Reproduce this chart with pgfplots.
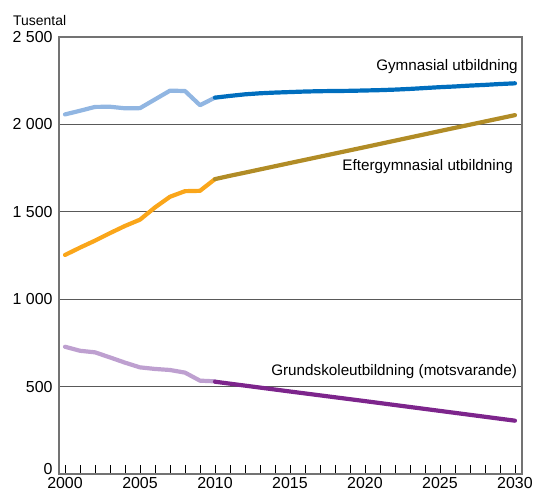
\documentclass[border=0pt]{standalone}
\usepackage{fontspec}
\setmainfont{Liberation Sans}
\usepackage{pgfplots}
\pgfplotsset{compat=1.18}
\usepackage{pgfplotstable}

\definecolor{gymL}{RGB}{145,182,226}
\definecolor{gymD}{RGB}{0,110,190}
\definecolor{eftL}{RGB}{250,166,26}
\definecolor{eftD}{RGB}{177,140,38}
\definecolor{grL}{RGB}{190,160,208}
\definecolor{grD}{RGB}{125,37,140}

\pgfplotstableread{
x y
2000 2057
2001 2078
2002 2100
2003 2101
2004 2092
2005 2093
2006 2143
2007 2193
2008 2191
2009 2110
2010 2153
}\gymhist
\pgfplotstableread{
x y
2010 2153
2011 2163
2012 2172
2013 2178
2014 2182
2015 2185
2016 2188
2017 2190
2018 2191
2019 2192
2020 2194
2021 2196
2022 2199
2023 2203
2024 2208
2025 2213
2026 2217
2027 2222
2028 2226
2029 2231
2030 2235
}\gymproj
\pgfplotstableread{
x y
2000 1253
2001 1295
2002 1335
2003 1378
2004 1419
2005 1455
2006 1525
2007 1586
2008 1618
2009 1620
2010 1687
}\efthist
\pgfplotstableread{
x y
2010 1687
2011 1706
2012 1724
2015 1779
2020 1870
2025 1962
2030 2053
}\eftproj
\pgfplotstableread{
x y
2000 728
2001 705
2002 696
2003 667
2004 637
2005 610
2006 601
2007 595
2008 580
2009 534
2010 530
}\grhist
\pgfplotstableread{
x y
2010 528
2015 472
2020 417
2025 361
2030 305
}\grproj

\begin{document}
\begin{tikzpicture}
\useasboundingbox (-59bp,-20bp) rectangle (474bp,474bp);
\begin{axis}[
  at={(0,0)}, anchor=south west,
  scale only axis, width=463bp, height=437bp,
  xmin=1999.6, xmax=2030.47,
  ymin=0, ymax=2500,
  xtick={2000,2005,...,2030},
  xticklabels={2000,2005,2010,2015,2020,2025,2030},
  minor xtick={2000,...,2030},
  ytick={0,500,1000,1500,2000,2500},
  yticklabels={\raisebox{0bp}[0pt][0pt]{0},500,1 000,1 500,2 000,2 500},
  ymajorgrids,
  major grid style={black!65, line width=0.7pt},
  tick align=inside,
  xtick pos=bottom,
  ytick style={draw=none},
  major tick length=9bp, minor tick length=9bp,
  xtick style={black, line width=0.6pt},
  x axis line style={black, line width=0.7pt},
  y axis line style={black!55, line width=1.2pt},
  tick label style={font=\fontsize{16}{18}\selectfont},
  xticklabel style={inner sep=1bp, yshift=-2bp},
  yticklabel style={inner sep=0pt, xshift=-6.3bp},
  every axis plot/.append style={line width=4.2bp, line cap=round, line join=round},
  clip=false,
]
\addplot[gymL] table[x=x,y=y] {\gymhist};
\addplot[eftL] table[x=x,y=y] {\efthist};
\addplot[grL] table[x=x,y=y] {\grhist};
\addplot[gymD] table[x=x,y=y] {\gymproj};
\addplot[eftD] table[x=x,y=y] {\eftproj};
\addplot[grD] table[x=x,y=y] {\grproj};
\node[anchor=east, font=\fontsize{15.3}{17}\selectfont, inner sep=0pt] at (axis cs:2030.2,2330) {Gymnasial utbildning};
\node[anchor=east, font=\fontsize{15.3}{17}\selectfont, inner sep=0pt] at (axis cs:2029.87,1758) {Eftergymnasial utbildning};
\node[anchor=east, font=\fontsize{15.3}{17}\selectfont, inner sep=0pt] at (axis cs:2030.15,585) {Grundskoleutbildning (motsvarande)};
\end{axis}
\node[anchor=west, font=\fontsize{14}{16}\selectfont, inner sep=0pt] at (-46bp,453bp) {Tusental};
\end{tikzpicture}
\end{document}
